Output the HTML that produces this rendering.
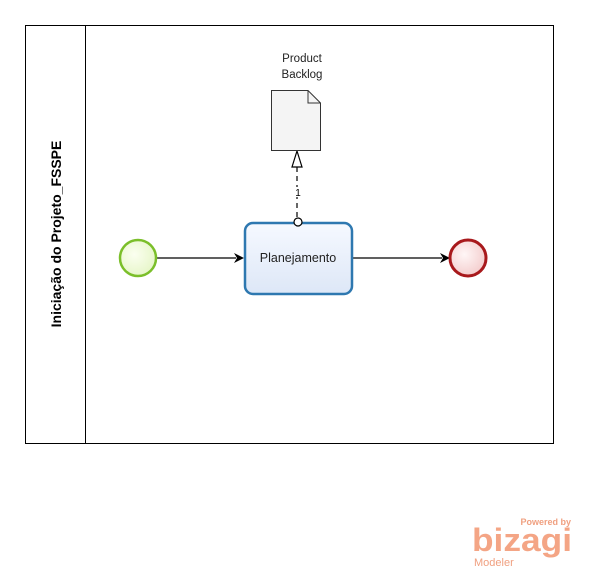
<!DOCTYPE html>
<html><head><style>
body{margin:0;background:#fff;width:600px;height:579px;overflow:hidden;font-family:"Liberation Sans",sans-serif}
</style></head><body>
<svg width="600" height="579" viewBox="0 0 600 579" xmlns="http://www.w3.org/2000/svg">
<defs>
<radialGradient id="gs" cx="0.4" cy="0.4" r="0.7"><stop offset="0" stop-color="#fbfff0"/><stop offset="1" stop-color="#e4f5c4"/></radialGradient>
<radialGradient id="ge" cx="0.4" cy="0.4" r="0.7"><stop offset="0" stop-color="#fff6f6"/><stop offset="1" stop-color="#f2c8c8"/></radialGradient>
<linearGradient id="gt" x1="0" y1="0" x2="0" y2="1"><stop offset="0" stop-color="#f6f9ff"/><stop offset="1" stop-color="#dde7f7"/></linearGradient>
</defs>
<rect x="25.5" y="25.5" width="528" height="418" fill="#fff" stroke="#000" stroke-width="1"/>
<line x1="85.5" y1="25" x2="85.5" y2="443" stroke="#000"/>
<text x="0" y="0" transform="translate(61,234) rotate(-90)" text-anchor="middle" font-size="14" font-weight="bold" fill="#000">Iniciação do Projeto_FSSPE</text>
<line x1="157" y1="258" x2="236" y2="258" stroke="#000" stroke-width="1.2"/>
<path d="M234,253 L244,258 L234,263 L237,258Z" fill="#000"/>
<line x1="352" y1="258" x2="442" y2="258" stroke="#000" stroke-width="1.2"/>
<path d="M440,253 L450,258 L440,263 L443,258Z" fill="#000"/>
<circle cx="138" cy="258" r="18" fill="url(#gs)" stroke="#7bbf2a" stroke-width="2.5"/>
<circle cx="468" cy="258" r="18" fill="url(#ge)" stroke="#a8191c" stroke-width="3"/>
<rect x="245" y="223" width="107" height="71" rx="8" fill="url(#gt)" stroke="#2e78b0" stroke-width="2.5"/>
<text x="298" y="262" text-anchor="middle" font-size="12.5" fill="#222">Planejamento</text>
<line x1="297" y1="167" x2="297" y2="218" stroke="#000" stroke-dasharray="5,4" stroke-width="1.2"/>
<path d="M297,151 L302,167 L292,167Z" fill="#fff" stroke="#000" stroke-width="1.2"/>
<circle cx="298" cy="222" r="4" fill="#fff" stroke="#000" stroke-width="1.2"/>
<rect x="294" y="187" width="7" height="10" fill="#fff"/>
<text x="298" y="196" text-anchor="middle" font-size="10" fill="#000">1</text>
<path d="M271.5,90.5 L308,90.5 L320.5,103 L320.5,150.5 L271.5,150.5Z" fill="#f4f4f4" stroke="#333"/>
<path d="M308,90.5 L308,103 L320.5,103" fill="none" stroke="#333"/>
<text x="302" y="62" text-anchor="middle" font-size="11.5" fill="#222">Product</text>
<text x="302" y="78" text-anchor="middle" font-size="11.5" fill="#222">Backlog</text>
<text x="571" y="525" text-anchor="end" font-size="9" font-weight="bold" fill="#f0a080">Powered by</text>
<text x="472" y="551" font-size="32" font-weight="bold" fill="#f4a585" textLength="100" lengthAdjust="spacingAndGlyphs">bizagi</text>
<text x="474" y="566" font-size="11" fill="#f0a080">Modeler</text>
</svg>
</body></html>
